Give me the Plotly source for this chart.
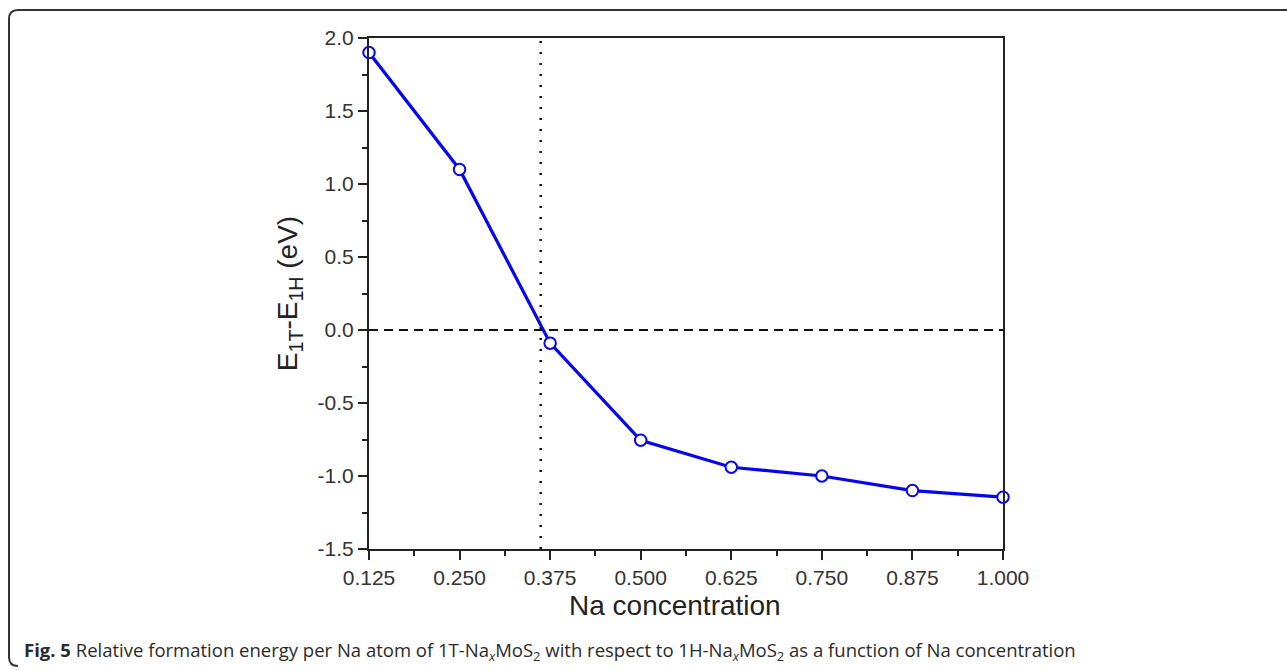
import plotly.graph_objects as go

na_conc = [0.125, 0.250, 0.375, 0.500, 0.625, 0.750, 0.875, 1.000]
delta_e = [1.90, 1.10, -0.09, -0.755, -0.94, -1.00, -1.10, -1.145]
x_ticks = [0.125, 0.250, 0.375, 0.500, 0.625, 0.750, 0.875, 1.000]
x_ticklabels = ["0.125", "0.250", "0.375", "0.500", "0.625", "0.750", "0.875", "1.000"]
y_ticks = [2.0, 1.5, 1.0, 0.5, 0.0, -0.5, -1.0, -1.5]
y_ticklabels = ["2.0", "1.5", "1.0", "0.5", "0.0", "-0.5", "-1.0", "-1.5"]
crossing_x = 0.362

W, H = 1287, 670
L, R, T, B = 369, 1003, 38, 549
pw, ph = R - L, B - T

def px(xp):
    return (xp - L) / pw

def py(yp):
    return (B - yp) / ph

fig = go.Figure()

fig.add_trace(go.Scatter(
    x=na_conc, y=delta_e, mode="lines+markers",
    line=dict(color="#0606ea", width=3.2),
    marker=dict(symbol="circle", size=11.5, color="white",
                line=dict(color="#0606ea", width=2)),
    cliponaxis=False, showlegend=False,
))

FONT = "Liberation Sans, Arial, sans-serif"
axis_font = dict(family=FONT, size=21, color="#333")
title_font = dict(family=FONT, size=28, color="#222")

fig.update_layout(
    width=W, height=H,
    margin=dict(l=L, r=W - R, t=T, b=H - B, pad=0),
    paper_bgcolor="white", plot_bgcolor="white",
    xaxis=dict(
        range=[0.125, 1.0], tickvals=x_ticks, ticktext=x_ticklabels,
        ticks="outside", ticklen=9, tickwidth=2, tickcolor="#222",
        minor=dict(dtick=0.0625, tick0=0.125, ticks="outside", ticklen=5, tickwidth=2, tickcolor="#222"),
        showline=True, linecolor="#222", linewidth=2, mirror=True,
        showgrid=False, zeroline=False, tickfont=axis_font,
    ),
    yaxis=dict(
        range=[-1.5, 2.0], tickvals=y_ticks, ticktext=y_ticklabels,
        ticks="outside", ticklen=9, tickwidth=2, tickcolor="#222",
        minor=dict(dtick=0.25, tick0=0, ticks="outside", ticklen=5, tickwidth=2, tickcolor="#222"),
        showline=True, linecolor="#222", linewidth=2, mirror=True,
        showgrid=False, zeroline=False, tickfont=axis_font,
        title=dict(text="E<sub>1T</sub>-E<sub>1H</sub> (eV)", font=title_font, standoff=12),
    ),
)

# x-axis title (slightly left of plot centre, as in the reference)
fig.add_annotation(
    xref="paper", yref="paper", x=px(675), y=py(605), xanchor="center", yanchor="middle",
    showarrow=False, text="Na concentration", font=title_font,
)

# reference lines
fig.add_shape(type="line", xref="x", yref="y", x0=0.125, x1=1.0, y0=0, y1=0,
              line=dict(color="#111", width=2, dash="9px,6px"), layer="below")
fig.add_shape(type="line", xref="x", yref="y", x0=crossing_x, x1=crossing_x, y0=-1.5, y1=2.0,
              line=dict(color="#111", width=2.5, dash="2px,9px"), layer="below")

# outer frame (rounded left corners, open on the right)
x0 = px(9); x1 = px(1300)
yt = py(10); yb = py(666)
rx = 9 / pw; ry = 9 / ph
path = (f"M {x1},{yt} L {x0+rx},{yt} Q {x0},{yt} {x0},{yt-ry} "
        f"L {x0},{yb+ry} Q {x0},{yb} {x0+rx},{yb}")
fig.add_shape(type="path", xref="paper", yref="paper", path=path,
              line=dict(color="#333", width=2))

fig.add_annotation(
    xref="paper", yref="paper", x=px(22), y=py(651), xanchor="left", yanchor="middle",
    showarrow=False,
    text=("<b>Fig. 5</b> Relative formation energy per Na atom of 1T-Na<sub><i>x</i></sub>MoS<sub>2</sub> "
          "with respect to 1H-Na<sub><i>x</i></sub>MoS<sub>2</sub> as a function of Na concentration"),
    font=dict(family="Open Sans, Noto Sans, sans-serif", size=18.5, color="#2a2a2a"),
)

fig.write_html("out.html")
